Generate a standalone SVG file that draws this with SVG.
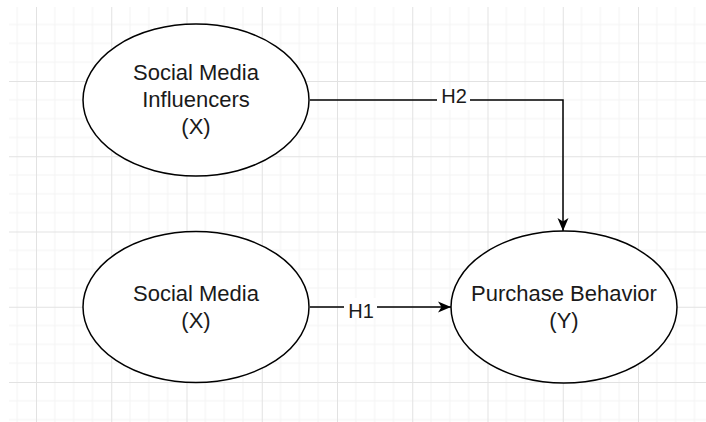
<svg xmlns="http://www.w3.org/2000/svg" width="706" height="422" viewBox="0 0 706 422">
  <defs>
    <style>
      .node ellipse { fill: #ffffff; stroke: #000000; stroke-width: 1.5; }
      .node text { font-family: "Liberation Sans", Arial, sans-serif; font-size: 22px; fill: #1a1a1a; text-anchor: middle; }
      .edge { fill: none; stroke: #000000; stroke-width: 1.5; }
      .label-bg { fill: #ffffff; }
      .label { font-family: "Liberation Sans", Arial, sans-serif; font-size: 20px; fill: #1a1a1a; text-anchor: middle; }
    </style>
    <pattern id="grid" x="36" y="5.75" width="75.25" height="75.25" patternUnits="userSpaceOnUse">
      <path d="M18.81 0V75.25M37.63 0V75.25M56.44 0V75.25M0 18.81H75.25M0 37.63H75.25M0 56.44H75.25" stroke="#f3f3f3" stroke-width="1" fill="none"/>
      <path d="M0.5 0V75.25M0 0.5H75.25" stroke="#e2e2e2" stroke-width="1" fill="none"/>
    </pattern>
    <marker id="arrow" viewBox="0 0 13 13" refX="13" refY="6.5" markerWidth="13" markerHeight="13" markerUnits="userSpaceOnUse" orient="auto">
      <path d="M0 1 L13 6.5 L0 12 L3.5 6.5 Z" fill="#000000"/>
    </marker>
  </defs>

  <rect width="706" height="422" fill="#ffffff"/>
  <rect x="9" y="7" width="697" height="415" fill="url(#grid)"/>

  <g id="connectors">
    <path class="edge" d="M310 100 H563 V231" marker-end="url(#arrow)"/>
    <rect class="label-bg" x="437" y="90" width="33" height="20"/>
    <text class="label" x="454" y="103">H2</text>
    <path class="edge" d="M310 307 H451" marker-end="url(#arrow)"/>
    <rect class="label-bg" x="344" y="298" width="33" height="20"/>
    <text class="label" x="361" y="318">H1</text>
  </g>

  <g id="influencers" class="node">
    <ellipse cx="196" cy="100" rx="113" ry="76"/>
    <text x="196" y="80">Social Media</text>
    <text x="196" y="107">Influencers</text>
    <text x="196" y="134">(X)</text>
  </g>

  <g id="social-media" class="node">
    <ellipse cx="196" cy="307" rx="113" ry="75.5"/>
    <text x="196" y="301">Social Media</text>
    <text x="196" y="328">(X)</text>
  </g>

  <g id="purchase-behavior" class="node">
    <ellipse cx="564" cy="307" rx="113" ry="76"/>
    <text x="564" y="301">Purchase Behavior</text>
    <text x="564" y="328">(Y)</text>
  </g>
</svg>
